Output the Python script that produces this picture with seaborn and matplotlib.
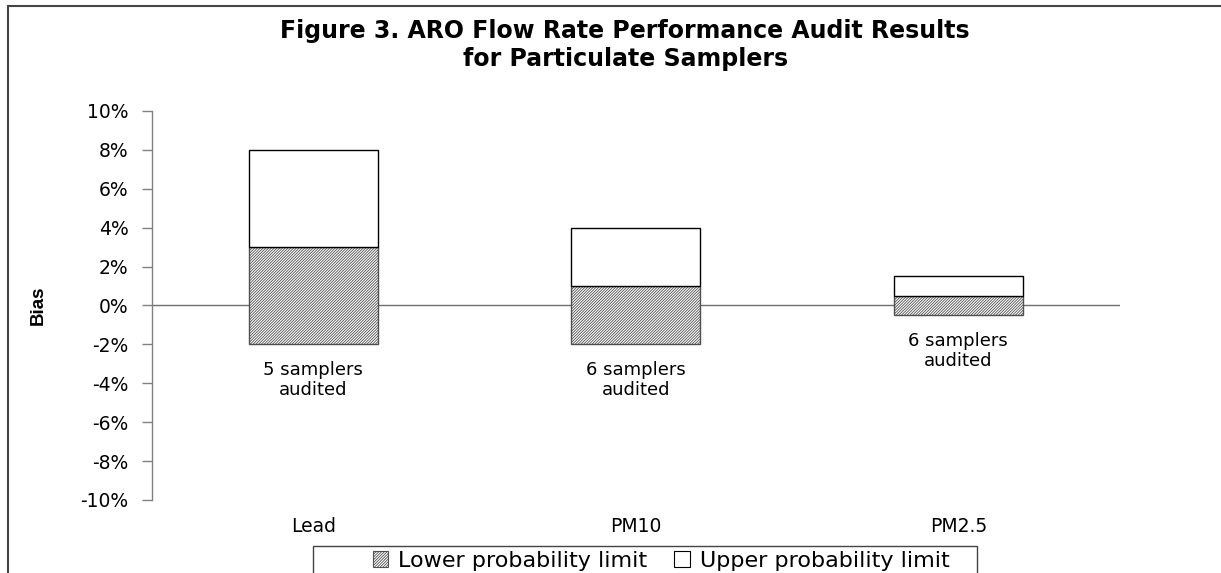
import matplotlib
matplotlib.use("Agg")
import matplotlib.pyplot as plt
from matplotlib.lines import Line2D
from matplotlib.patches import Patch, Rectangle
import seaborn as sns
import pandas as pd

# Audit results: probability limits of flow-rate bias (percent)
sites = ["Lead", "PM10", "PM2.5"]
lower_limit = [-2.0, -2.0, -0.5]   # bottom of each bar
split_value = [3.0, 1.0, 0.5]      # top of the lower-limit band
upper_limit = [8.0, 4.0, 1.5]      # top of the upper-limit band
sampler_notes = ["5 samplers\naudited", "6 samplers\naudited", "6 samplers\naudited"]
y_ticks = [-10, -8, -6, -4, -2, 0, 2, 4, 6, 8, 10]

df = pd.DataFrame({
    "site": sites,
    "low": lower_limit,
    "mid": split_value,
    "high": upper_limit,
})
df["lower_span"] = df["mid"] - df["low"]
df["upper_span"] = df["high"] - df["mid"]

sns.set_theme(style="white")
plt.rcParams["font.family"] = ["DejaVu Sans"]
plt.rcParams["text.color"] = "black"
plt.rcParams["axes.labelcolor"] = "black"
plt.rcParams["hatch.linewidth"] = 0.6

fig = plt.figure(figsize=(12.21, 5.73), dpi=100)
ax = fig.add_axes([0.1245, 0.1274, 0.7924, 0.6789])

hatch_edge = "#505050"
hatch_style = "////////////"
sns.barplot(data=df, x="site", y="lower_span", bottom=df["low"], order=sites,
            width=0.4, color="white", edgecolor=hatch_edge, linewidth=1.0,
            hatch=hatch_style, saturation=1, ax=ax, zorder=2)
sns.barplot(data=df, x="site", y="upper_span", bottom=df["mid"], order=sites,
            width=0.4, color="white", edgecolor="black", linewidth=1.0,
            saturation=1, ax=ax, zorder=2)

# zero reference line
ax.axhline(0, color="#6e6e6e", lw=1.0, zorder=1)

ax.set_ylim(-10, 10)
ax.set_xlim(-0.5, 2.5)
ax.set_yticks(y_ticks)
ax.set_yticklabels([f"{v}%" for v in y_ticks])
ax.tick_params(axis="y", left=True, length=7, width=1, color="#808080",
               pad=10, labelsize=13.5, labelcolor="black")
ax.tick_params(axis="x", bottom=False, pad=6.5, labelsize=13.5, labelcolor="black")
ax.set_xlabel("")
ax.set_ylabel("Bias", fontsize=13.5, fontweight="bold",
              family=["Liberation Sans Narrow", "Liberation Sans", "DejaVu Sans"],
              labelpad=24)

for side in ["top", "right", "bottom"]:
    ax.spines[side].set_visible(False)
ax.spines["left"].set_color("#808080")
ax.spines["left"].set_linewidth(1.0)
ax.grid(False)

# sample-size notes below each bar
for i, (low, note) in enumerate(zip(lower_limit, sampler_notes)):
    ax.annotate(note, xy=(i, low), xytext=(0, -12), textcoords="offset points",
                ha="center", va="top", fontsize=13, linespacing=1.15)

# title
fig.text(0.512, 0.922, "Figure 3. ARO Flow Rate Performance Audit Results\nfor Particulate Samplers",
         ha="center", va="center", fontsize=17, fontweight="bold", linespacing=1.2)

# legend, with its box drawn separately so it spans the full band
handles = [
    Patch(facecolor="white", edgecolor=hatch_edge, hatch=hatch_style, linewidth=0.8,
          label="Lower probability limit"),
    Patch(facecolor="white", edgecolor="black", linewidth=0.8,
          label="Upper probability limit"),
]
leg = fig.legend(handles=handles, loc="center", ncol=2,
                 bbox_to_anchor=(661 / 1221, 1 - 561 / 573), bbox_transform=fig.transFigure,
                 fontsize=16, frameon=False,
                 handlelength=0.7, handleheight=0.7, handletextpad=0.45,
                 columnspacing=1.2, borderpad=0.0, borderaxespad=0)
fig.add_artist(Rectangle((313 / 1221, -0.02), (977 - 313) / 1221, 0.02 + 27 / 573,
                         transform=fig.transFigure, fill=False,
                         edgecolor="#444444", lw=1.0))

# outer frame of the figure
fig.add_artist(Line2D([8 / 1221, 8 / 1221], [0, 1 - 6 / 573], transform=fig.transFigure,
                      color="#444444", lw=1.5))
fig.add_artist(Line2D([8 / 1221, 1], [1 - 6 / 573, 1 - 6 / 573], transform=fig.transFigure,
                      color="#444444", lw=1.5))

fig.savefig("out.png", dpi=100, facecolor="white")
